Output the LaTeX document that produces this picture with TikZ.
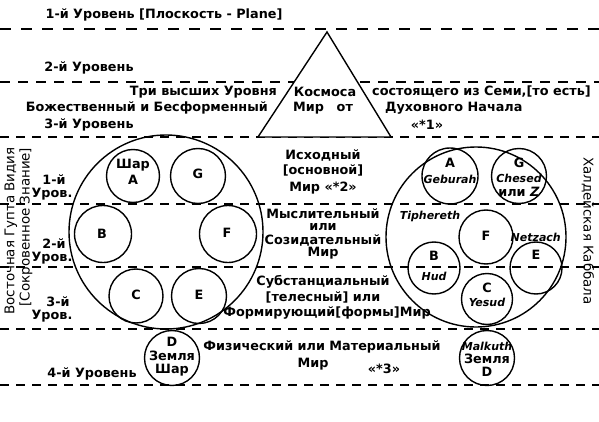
\documentclass[tikz,border=0pt]{standalone}
\usepackage{fontspec}
\setmainfont{DejaVu Sans}
\begin{document}
\begin{tikzpicture}[x=1pt,y=-1pt,
  lbl/.style={font=\bfseries\fontsize{12.8}{13}\selectfont, inner sep=0pt},
  reg/.style={font=\fontsize{13.4}{14}\selectfont, inner sep=0pt},
  itl/.style={font=\bfseries\itshape\fontsize{11}{12}\selectfont, inner sep=0pt},
  lvl/.style={line width=1.8pt, dash pattern=on 9pt off 7pt},
  circ/.style={draw, circle, line width=1.4pt, inner sep=0pt},
  shape line/.style={line width=1.4pt}]
\useasboundingbox (0,0) rectangle (599,422);
% level lines
\draw[lvl, dash pattern=on 11pt off 10pt] (0,29) -- (599,29);
\draw[lvl, dash pattern=on 10pt off 8pt] (0,82) -- (599,82);
\foreach \yy in {137,204,267,329,385} \draw[lvl] (0,\yy) -- (599,\yy);
% triangle
\coordinate (tA) at (327,32);
\coordinate (tL) at (258,137);
\coordinate (tR) at (391,137);
\draw[shape line, fill=white] (tA) -- (tL) -- (tR) -- cycle;
% top texts
\node[lbl] (t1) at (164,15) {1-й Уровень [Плоскость - Plane]};
\node[lbl] (t2) at (89,68) {2-й Уровень};
\node[lbl, anchor=east] (t3) at (277,92) {Три высших Уровня};
\node[lbl, anchor=east] (t4) at (268,108) {Божественный и Бесформенный};
\node[lbl] (t5) at (89,125) {3-й Уровень};
\node[lbl] (t6) at (325,92) {Космоса};
\node[lbl] (t7) at (323,108) {Мир\hspace{1em}от};
\node[lbl, anchor=west] (t8) at (372,92) {состоящего из Семи,[то есть]};
\node[lbl, anchor=west] (t9) at (385,108) {Духовного Начала};
\node[lbl] (t10) at (427,125) {«*1»};
% middle texts
\node[lbl] (m1) at (323,155) {Исходный};
\node[lbl] (m2) at (323,170) {[основной]};
\node[lbl] (m3) at (323,188) {Мир «*2»};
\node[lbl] (m4a) at (323,214) {Мыслительный};
\node[lbl] (m4b) at (323,227) {или};
\node[lbl] (m4c) at (323,240) {Созидательный};
\node[lbl] (m4d) at (323,253) {Мир};
\node[lbl] (m5) at (323,282) {Субстанциальный};
\node[lbl] (m6) at (323,297) {[телесный] или};
\node[lbl] (m7) at (327,313) {Формирующий[формы]Мир};
\node[lbl] (m8) at (322,347) {Физический или Материальный};
\node[lbl] (m9) at (313,364) {Мир};
\node[lbl] (m10) at (384,369) {«*3»};
\node[lbl] (l4) at (92,374) {4-й Уровень};
% left level labels
\node[lbl] (lv1a) at (54,180) {1-й};
\node[lbl] (lv1b) at (52,194) {Уров.};
\node[lbl] (lv2a) at (54,244) {2-й};
\node[lbl] (lv2b) at (52,258) {Уров.};
\node[lbl] (lv3a) at (58,302) {3-й};
\node[lbl] (lv3b) at (52,316) {Уров.};
% vertical texts
\node[reg, rotate=90] (vl1) at (11,231) {Восточная Гупта Видия};
\node[reg, rotate=90] (vl2) at (26,227) {[Сокровенное Знание]};
\node[reg, rotate=-90] (vr) at (588,231) {Халдейская Каббала};
% left big circle
\node[circ, minimum size=194pt] (LB) at (166,232) {};
\node[circ, minimum size=53pt] (LA) at (133,176) {};
\node[lbl] (LAt1) at (133,165) {Шар};
\node[lbl] (LAt2) at (133,180) {A};
\node[circ, minimum size=55pt] (LG) at (198,176) {};
\node[lbl] (LGt) at (198,174) {G};
\node[circ, minimum size=57pt] (LBb) at (103,234) {};
\node[lbl] (LBt) at (102,234) {B};
\node[circ, minimum size=57pt] (LF) at (228,234) {};
\node[lbl] (LFt) at (227,233) {F};
\node[circ, minimum size=54pt] (LC) at (136,296) {};
\node[lbl] (LCt) at (136,295) {C};
\node[circ, minimum size=55pt] (LE) at (199,296) {};
\node[lbl] (LEt) at (199,295) {E};
\node[circ, minimum size=55pt] (LD) at (172,358) {};
\node[lbl] (LDt1) at (172,342) {D};
\node[lbl] (LDt2) at (172,356) {Земля};
\node[lbl] (LDt3) at (172,370) {Шар};
% right big circle
\node[circ, minimum size=180pt] (RB) at (476,237) {};
\node[circ, minimum size=56pt] (RA) at (450,176) {};
\node[lbl] (RAt) at (450,163) {A};
\node[itl] (RAi) at (450,179) {Geburah};
\node[circ, minimum size=55pt] (RG) at (519,176) {};
\node[lbl] (RGt) at (519,163) {G};
\node[itl] (RGi) at (519,178) {Chesed};
\node[lbl] (RGz) at (519,192) {или \textit{Z}};
\node[itl] (Rtip) at (430,216) {Tiphereth};
\node[circ, minimum size=54pt] (RF) at (486,237) {};
\node[lbl] (RFt) at (486,236) {F};
\node[itl, anchor=east] (Rnet) at (561,237) {Netzach};
\node[circ, minimum size=52pt] (RBb) at (434,268) {};
\node[lbl] (RBt) at (434,256) {B};
\node[itl] (RBi) at (434,276) {Hud};
\node[circ, minimum size=52pt] (RE) at (536,268) {};
\node[lbl] (REt) at (536,255) {E};
\node[circ, minimum size=51pt] (RC) at (487,299) {};
\node[lbl] (RCt) at (487,288) {C};
\node[itl] (RCi) at (487,302) {Yesud};
\node[circ, minimum size=55pt] (RD) at (487,358) {};
\node[itl] (RDi) at (487,346) {Malkuth};
\node[lbl] (RDt) at (487,359) {Земля};
\node[lbl] (RDd) at (487,372) {D};
\end{tikzpicture}
\end{document}
